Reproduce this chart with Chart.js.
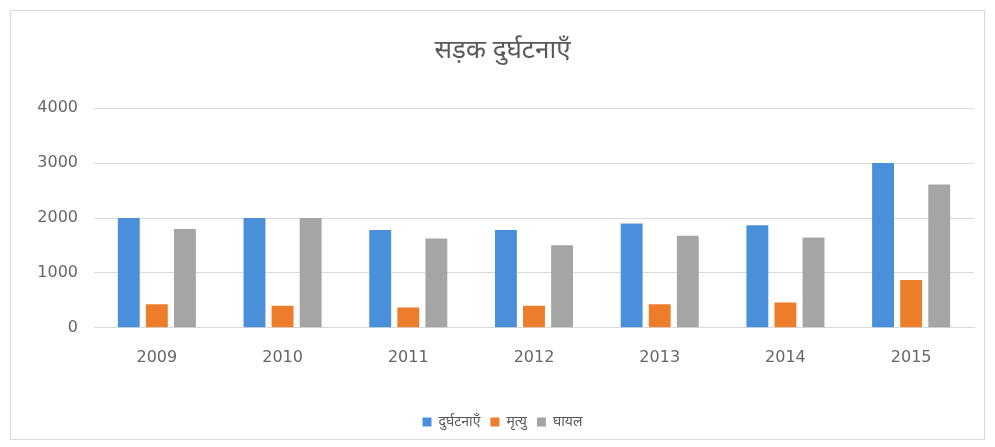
<!DOCTYPE html>
<html lang="hi">
<head>
    <meta charset="UTF-8">
    <title>सड़क दुर्घटनाएँ</title>
    <script src="https://cdn.jsdelivr.net/npm/chart.js"></script>
    <style>
        body { margin: 0; background: #fff; }
        #box {
            position: absolute; left: 10px; top: 10px;
            width: 973px; height: 428px;
            border: 1px solid #d9d9d9; background: #fff;
        }
    </style>
</head>
<body>
    <div id="box"><canvas id="roadChart"></canvas></div>

    <script>
        // वर्ष
        const years = ['2009', '2010', '2011', '2012', '2013', '2014', '2015'];
        // श्रृंखला
        const accidents = [2000, 2000, 1780, 1780, 1900, 1870, 3000];
        const deaths = [430, 400, 370, 400, 430, 460, 870];
        const injured = [1800, 2000, 1625, 1505, 1675, 1645, 2610];
        const yTicks = [0, 1000, 2000, 3000, 4000];

        const font = "'Noto Sans', 'DejaVu Sans', sans-serif";
        const numFont = "'DejaVu Sans', sans-serif";
        const grey = '#595959';

        new Chart(document.getElementById('roadChart'), {
            type: 'bar',
            data: {
                labels: years,
                datasets: [
                    { label: 'दुर्घटनाएँ', data: accidents, backgroundColor: '#4a8fd9' },
                    { label: 'मृत्यु', data: deaths, backgroundColor: '#ee7d2b' },
                    { label: 'घायल', data: injured, backgroundColor: '#a5a5a5' }
                ]
            },
            options: {
                responsive: true,
                maintainAspectRatio: false,
                animation: false,
                categoryPercentage: 0.67,
                barPercentage: 0.78,
                layout: { padding: { left: 20, right: 10, top: 24, bottom: 0 } },
                plugins: {
                    title: {
                        display: true,
                        text: 'सड़क दुर्घटनाएँ',
                        color: grey,
                        font: { family: font, size: 26, weight: 'normal' },
                        padding: { top: 0, bottom: 42 }
                    },
                    legend: {
                        position: 'bottom',
                        labels: {
                            color: grey,
                            font: { family: font, size: 14 },
                            boxWidth: 9,
                            boxHeight: 9,
                            padding: 10
                        }
                    },
                    tooltip: { enabled: false }
                },
                scales: {
                    x: {
                        grid: { display: false },
                        border: { color: '#d9d9d9' },
                        afterFit: axis => { axis.height += 26; },
                        ticks: { color: '#666', font: { family: numFont, size: 16 }, padding: 12 }
                    },
                    y: {
                        min: 0,
                        max: 4000,
                        afterBuildTicks: axis => { axis.ticks = yTicks.map(v => ({ value: v })); },
                        afterFit: axis => { axis.width = 63; },
                        grid: { color: '#d9d9d9', drawTicks: false },
                        border: { display: false },
                        ticks: {
                            color: '#666',
                            font: { family: numFont, size: 16 },
                            padding: 16,
                            callback: v => String(v)
                        }
                    }
                }
            }
        });
    </script>
</body>
</html>
